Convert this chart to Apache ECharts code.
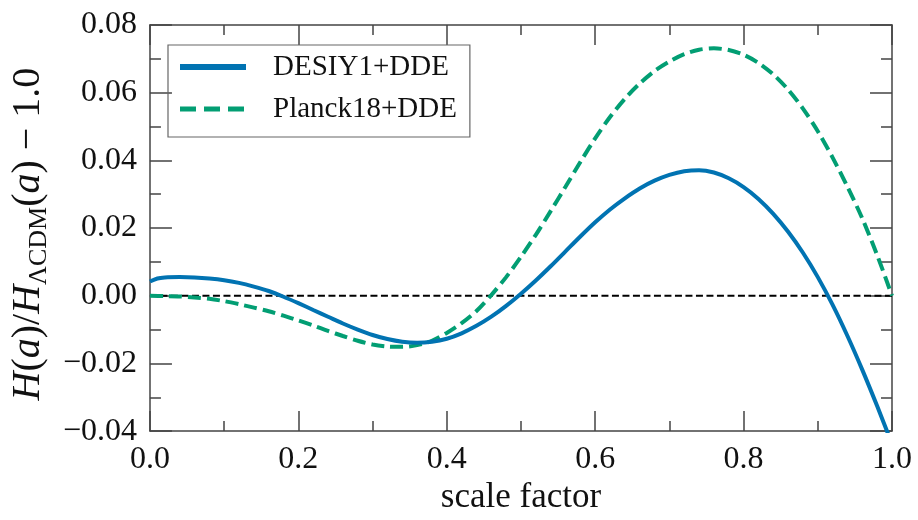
<!DOCTYPE html>
<html>
<head>
<meta charset="utf-8">
<script src="https://cdn.jsdelivr.net/npm/echarts@6/dist/echarts.min.js"></script>
<style>
html,body{margin:0;padding:0;background:#fff;}
#chart{width:918px;height:520px;}
</style>
</head>
<body>
<div id="chart"></div>
<script>
// ---- data ----
const seriesNames = ['DESIY1+DDE', 'Planck18+DDE'];

const desiX = [0.00, 0.01, 0.02, 0.04, 0.06, 0.08, 0.10, 0.12, 0.14, 0.16, 0.18, 0.20, 0.22, 0.24, 0.26, 0.28, 0.30, 0.32, 0.34, 0.36, 0.38, 0.40, 0.42, 0.44, 0.46, 0.48, 0.50, 0.52, 0.54, 0.56, 0.58, 0.60, 0.62, 0.64, 0.66, 0.68, 0.70, 0.72, 0.74, 0.76, 0.78, 0.80, 0.82, 0.84, 0.86, 0.88, 0.90, 0.92, 0.94, 0.96, 0.98, 1.00];
const desiY = [0.0042, 0.0051, 0.0054, 0.0055, 0.0054, 0.0051, 0.0046, 0.0038, 0.0027, 0.0014, -0.0003, -0.0022, -0.0042, -0.0062, -0.0082, -0.0100, -0.0116, -0.0128, -0.0136, -0.0139, -0.0136, -0.0127, -0.0111, -0.0089, -0.0062, -0.0030, 0.0006, 0.0045, 0.0087, 0.0131, 0.0175, 0.0217, 0.0255, 0.0288, 0.0317, 0.0340, 0.0357, 0.0368, 0.0371, 0.0364, 0.0347, 0.0321, 0.0286, 0.0242, 0.0189, 0.0127, 0.0055, -0.0027, -0.0119, -0.0219, -0.0326, -0.0438];

const planckX = [0.00, 0.02, 0.04, 0.06, 0.08, 0.10, 0.12, 0.14, 0.16, 0.18, 0.20, 0.22, 0.24, 0.26, 0.28, 0.30, 0.32, 0.34, 0.36, 0.38, 0.40, 0.42, 0.44, 0.46, 0.48, 0.50, 0.52, 0.54, 0.56, 0.58, 0.60, 0.62, 0.64, 0.66, 0.68, 0.70, 0.72, 0.74, 0.76, 0.78, 0.80, 0.82, 0.84, 0.86, 0.88, 0.90, 0.92, 0.94, 0.96, 0.98, 1.00];
const planckY = [0.0000, -0.0001, -0.0002, -0.0005, -0.0009, -0.0016, -0.0025, -0.0035, -0.0046, -0.0059, -0.0073, -0.0088, -0.0104, -0.0119, -0.0133, -0.0144, -0.0150, -0.0151, -0.0146, -0.0133, -0.0110, -0.0081, -0.0045, 0.0002, 0.0055, 0.0115, 0.0180, 0.0250, 0.0322, 0.0395, 0.0465, 0.0528, 0.0582, 0.0627, 0.0664, 0.0692, 0.0714, 0.0727, 0.0731, 0.0726, 0.0712, 0.0688, 0.0654, 0.0609, 0.0553, 0.0486, 0.0408, 0.0322, 0.0228, 0.0120, 0.0000];

const refX = [0.0, 1.0];
const refY = [0.0, 0.0];

const xTicks = [0.0, 0.2, 0.4, 0.6, 0.8, 1.0];
const yTicks = [-0.04, -0.02, 0.00, 0.02, 0.04, 0.06, 0.08];

// ---- styling ----
const serif = 'Liberation Serif';
const axisColor = '#444';
const textColor = '#111';
const zip = (xs, ys) => xs.map((x, i) => [x, ys[i]]);

const tickCommon = (majorLen, minorLen) => ({
  axisLine: { show: true, onZero: false, lineStyle: { color: axisColor, width: 1.5 } },
  axisTick: { show: true, inside: true, length: majorLen, lineStyle: { color: axisColor, width: 1.5 } },
  minorTick: { show: true, splitNumber: 2, length: minorLen, lineStyle: { color: axisColor, width: 1.5 } },
  splitLine: { show: false },
  minorSplitLine: { show: false }
});

const fmtY = v => {
  if (Math.abs(v) < 1e-9) return '0.00';
  return (v < 0 ? '\u2212' : '') + Math.abs(v).toFixed(2);
};

const xMin = xTicks[0], xMax = xTicks[xTicks.length - 1], xInt = 0.2;
const yMin = yTicks[0], yMax = yTicks[yTicks.length - 1], yInt = 0.02;

const chart = echarts.init(document.getElementById('chart'), null, { renderer: 'canvas' });
const option = {
  animation: false,
  backgroundColor: '#fff',
  grid: { left: 145, right: 26, top: 25, bottom: 83, containLabel: false },
  legend: {
    orient: 'vertical',
    left: 168,
    top: 45,
    padding: [7, 13, 13, 9],
    borderColor: '#666',
    borderWidth: 1.2,
    borderRadius: 0,
    itemWidth: 66,
    itemHeight: 14,
    itemGap: 12,
    textStyle: { fontFamily: serif, fontSize: 29, color: textColor, lineHeight: 30, padding: [0, 0, 0, 22] },
    data: [
      { name: seriesNames[0], itemStyle: { opacity: 0 }, lineStyle: { width: 6, type: 'solid' } },
      { name: seriesNames[1], itemStyle: { opacity: 0 }, lineStyle: { width: 5, type: [16, 8] } }
    ]
  },
  xAxis: [
    Object.assign({
      type: 'value', min: xMin, max: xMax, interval: xInt, position: 'bottom',
      axisLabel: { formatter: v => v.toFixed(1), fontFamily: serif, fontSize: 32, color: textColor, margin: 12 },
      name: 'scale factor', nameLocation: 'middle', nameGap: 34,
      nameTextStyle: { fontFamily: serif, fontSize: 35, color: textColor }
    }, tickCommon(20, 10)),
    Object.assign({
      type: 'value', min: xMin, max: xMax, interval: xInt, position: 'top',
      axisLabel: { show: false }
    }, tickCommon(20, 10))
  ],
  yAxis: [
    Object.assign({
      type: 'value', min: yMin, max: yMax, interval: yInt, position: 'left',
      axisLabel: { formatter: fmtY, fontFamily: serif, fontSize: 32, color: textColor, margin: 13 },
      name: '{i|H}{r|(}{i|a}{r|)/}{i|H}{s|\u039BCDM}{r|(}{i|a}{r|) \u2212 1.0}',
      nameLocation: 'middle', nameGap: 88, nameRotate: 90,
      nameTextStyle: {
        fontFamily: serif, fontSize: 40, color: textColor, padding: [0, 12, 0, 0],
        rich: {
          i: { fontFamily: serif, fontStyle: 'italic', fontSize: 40, lineHeight: 48, verticalAlign: 'middle', color: textColor },
          r: { fontFamily: serif, fontSize: 40, lineHeight: 48, verticalAlign: 'middle', color: textColor },
          s: { fontFamily: serif, fontSize: 26, lineHeight: 26, verticalAlign: 'bottom', color: textColor }
        }
      }
    }, tickCommon(22, 11)),
    Object.assign({
      type: 'value', min: yMin, max: yMax, interval: yInt, position: 'right',
      axisLabel: { show: false }
    }, tickCommon(22, 11))
  ],
  series: [
    {
      name: 'zero', type: 'line', data: zip(refX, refY), symbol: 'none', silent: true, z: 1,
      lineStyle: { color: '#000', width: 2.2, type: [7, 3.5] }
    },
    {
      name: seriesNames[0], type: 'line', data: zip(desiX, desiY), symbol: 'none', smooth: 0.3, z: 3,
      lineStyle: { color: '#0173b2', width: 4 }, itemStyle: { color: '#0173b2' }
    },
    {
      name: seriesNames[1], type: 'line', data: zip(planckX, planckY), symbol: 'none', smooth: 0.3, z: 2,
      lineStyle: { color: '#029e73', width: 4, type: [13, 6] }, itemStyle: { color: '#029e73' }
    }
  ]
};
chart.setOption(option);
</script>
</body>
</html>
